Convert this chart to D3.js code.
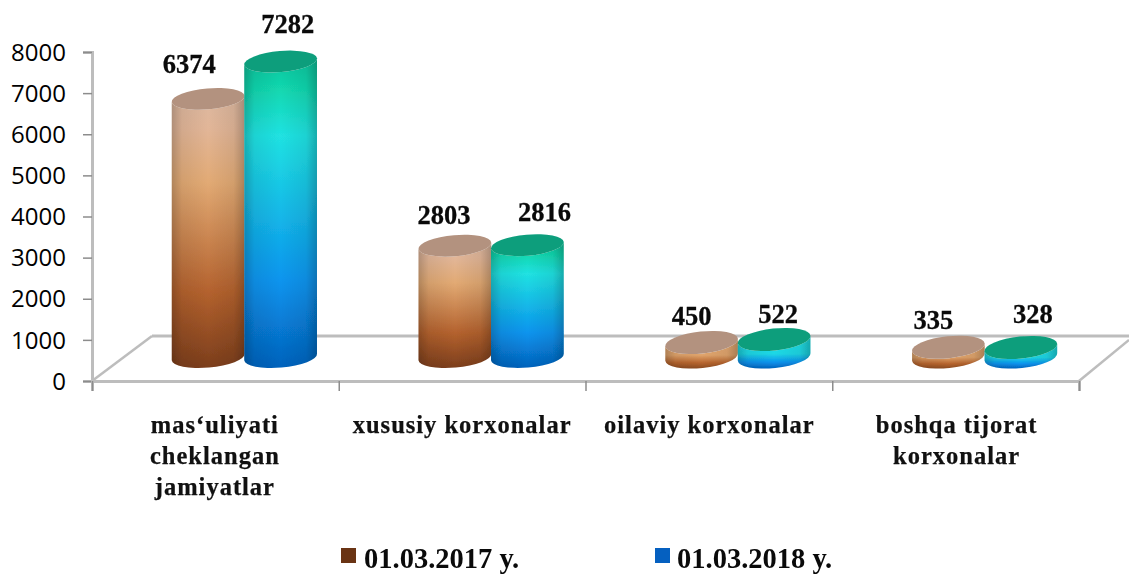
<!DOCTYPE html>
<html><head><meta charset="utf-8">
<script src="https://cdn.jsdelivr.net/npm/d3@7"></script>
<style>html,body{margin:0;background:#fff}svg{display:block}</style></head>
<body><svg id="c" width="1129" height="574"></svg>
<script>
const categories = [["mas‘uliyati","cheklangan","jamiyatlar"],["xususiy korxonalar"],["oilaviy korxonalar"],["boshqa tijorat","korxonalar"]];
const seriesNames = ["01.03.2017 y.","01.03.2018 y."];
const values2017 = [6374,2803,450,335];
const values2018 = [7282,2816,522,328];
const yTicks = [0,1000,2000,3000,4000,5000,6000,7000,8000];

const svg = d3.select("#c");
const W=1129;
const x0=92,x1=1079,yB=381,yT=52,depthX=60,depthY=45;
const y=d3.scaleLinear().domain([0,8000]).range([yB,yT]);
const xCat=d3.scaleBand().domain(d3.range(4)).range([x0,x1]);
const xSer=d3.scaleBand().domain([0,1]).range([-72.5,72.5]);
const grey="#bdbdbd";
const barShift=29;

const defs=svg.append("defs");
defs.append("filter").attr("id","soft").attr("x","-5%").attr("y","-5%").attr("width","110%").attr("height","110%")
  .append("feGaussianBlur").attr("stdDeviation",0.7);
function vgrad(id,stops){
  const g=defs.append("linearGradient").attr("id",id).attr("x1",0).attr("x2",0).attr("y1",0).attr("y2",1);
  stops.forEach(s=>g.append("stop").attr("offset",s[0]).attr("stop-color",s[1]));
}
vgrad("g0",[[0,"#dcb8a0"],[.12,"#e2b698"],[.32,"#e2aa74"],[.72,"#b4622e"],[1,"#7c3e1c"]]);
vgrad("g1",[[0,"#0cc49c"],[.1,"#12d8b0"],[.25,"#20e2e2"],[.72,"#0a94ee"],[1,"#0462bc"]]);
vgrad("gs0",[[0,"#e2aa74"],[.55,"#e0a46c"],[.8,"#b8662f"],[1,"#8a4a20"]]);
vgrad("gs1",[[0,"#20e2e2"],[.55,"#1ed8e6"],[.8,"#0a94ee"],[1,"#0462bc"]]);
const sh=defs.append("linearGradient").attr("id","shade");
[[0,.22],[.14,.07],[.5,0],[.85,.07],[1,.24]].forEach(s=>sh.append("stop").attr("offset",s[0]).attr("stop-color","#000").attr("stop-opacity",s[1]));

// floor and axes
const floor=svg.append("g").attr("fill","none").attr("stroke",grey).attr("stroke-width",3);
floor.append("line").attr("x1",x0+depthX).attr("y1",yB-depthY).attr("x2",W).attr("y2",yB-depthY);
floor.append("line").attr("x1",x0).attr("y1",yB).attr("x2",x0+depthX).attr("y2",yB-depthY).attr("stroke-width",2.5);
floor.append("line").attr("x1",x1).attr("y1",yB).attr("x2",W).attr("y2",yB-depthY+4).attr("stroke-width",2.5);

const yAxis=svg.append("g").attr("transform",`translate(${x0},0)`)
  .call(d3.axisLeft(y).tickValues(yTicks).tickFormat(d3.format("d")).tickSize(9).tickPadding(17));
yAxis.select(".domain").attr("stroke",grey).attr("stroke-width",3);
yAxis.selectAll(".tick line").attr("stroke","#8c8c8c").attr("stroke-width",1.5);
yAxis.selectAll("text").attr("font-family","'Open Sans'").attr("font-size",24).attr("fill","#000").attr("dy","0.34em");

const xAxis=svg.append("g").attr("transform",`translate(0,${yB})`)
  .call(d3.axisBottom(d3.scaleLinear().domain([0,4]).range([x0,x1])).ticks(4).tickFormat("").tickSize(10));
xAxis.select(".domain").attr("stroke",grey).attr("stroke-width",3);
xAxis.selectAll(".tick line").attr("stroke","#8c8c8c").attr("stroke-width",1.5);

// cylinders
const rx=36.5,floorY=357,lift=20;
const capColor=["#b3927f","#0a9e7c"];
function cyl(g,cx,top,bot,s,deg,ry,grad){
  const t=deg*Math.PI/180,dx=rx*Math.cos(t),dy=rx*Math.sin(t);
  const body=`M${cx-dx},${top-dy}L${cx-dx},${bot-dy}A${rx},${ry} ${deg} 0 0 ${cx+dx},${bot+dy}L${cx+dx},${top+dy}A${rx},${ry} ${deg} 0 1 ${cx-dx},${top-dy}Z`;
  g.append("path").attr("d",body).attr("fill",`url(#${grad}${s})`);
  g.append("path").attr("d",body).attr("fill","url(#shade)");
  g.append("ellipse").attr("rx",rx).attr("ry",ry).attr("fill",capColor[s])
    .attr("transform",`translate(${cx},${top}) rotate(${deg})`);
}
const bars=svg.append("g").attr("filter","url(#soft)");
[values2017,values2018].forEach((vals,s)=>{
  vals.forEach((v,i)=>{
    const cx=xCat(i)+xCat.bandwidth()/2+barShift+xSer(s)+xSer.bandwidth()/2;
    const top=y(v)-lift;
    const short=v<1000;
    cyl(bars,cx,top,floorY,s,short?-6:-5,short?11:10.5,short?"gs":"g");
  });
});

// value labels
const serif="'Liberation Serif'";
const labDx=[[-19,7],[-11,17],[-10,4],[-15,12]], labDy=[[-26,-28.5],[-22,-24],[-17,-17],[-18,-25]];
[values2017,values2018].forEach((vals,s)=>{
  svg.append("g").selectAll("text").data(vals).join("text")
    .attr("x",(d,i)=>xCat(i)+xCat.bandwidth()/2+barShift+xSer(s)+xSer.bandwidth()/2+labDx[i][s])
    .attr("y",(d,i)=>y(d)-lift+labDy[i][s])
    .attr("text-anchor","middle").attr("font-family",serif).attr("font-weight","bold")
    .attr("font-size",26.5).attr("fill","#0a0a0a").attr("stroke","#0a0a0a").attr("stroke-width",0.3).text(d=>d);
});

// category labels
const catG=svg.append("g").attr("font-family",serif).attr("font-weight","bold").attr("font-size",24.5).attr("letter-spacing",1).attr("fill","#111").attr("stroke","#111").attr("stroke-width",0.25).attr("text-anchor","middle");
categories.forEach((lines,i)=>{
  lines.forEach((t,k)=>catG.append("text").attr("x",xCat(i)+xCat.bandwidth()/2+i*0.5-0.5).attr("y",433+k*31).text(t));
});

// legend
const legCol=["#6a3414","#0560c0"], legX=[341,655];
seriesNames.forEach((n,s)=>{
  svg.append("rect").attr("x",legX[s]).attr("y",548).attr("width",15).attr("height",15).attr("fill",legCol[s]);
  svg.append("text").attr("x",legX[s]+(s?22:23)).attr("y",568).attr("font-family",serif).attr("font-weight","bold").attr("font-size",28.5).attr("fill","#0a0a0a").text(n);
});
</script></body></html>
